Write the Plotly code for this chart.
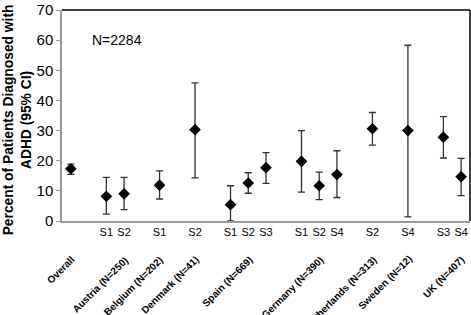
import plotly.graph_objects as go

# ---- data ----
groups = ["Overall", "Austria (N=250)", "Belgium (N=202)", "Denmark (N=41)", "Spain (N=669)",
          "Germany (N=390)", "Netherlands (N=313)", "Sweden (N=12)", "UK (N=407)"]
group_series = [[""], ["S1", "S2"], ["S1"], ["S2"], ["S1", "S2", "S3"],
                ["S1", "S2", "S4"], ["S2"], ["S4"], ["S3", "S4"]]
estimate = [17.3, 8.2, 9.0, 11.9, 30.3, 5.4, 12.6, 17.7, 19.8, 11.7, 15.4, 30.6, 30.0, 27.8, 14.7]
upper = [18.9, 14.5, 14.5, 16.6, 45.8, 11.7, 16.0, 22.7, 30.0, 16.2, 23.3, 36.0, 58.3, 34.6, 20.8]
lower = [15.5, 2.3, 3.8, 7.3, 14.3, 0.0, 9.2, 12.5, 9.6, 7.1, 7.8, 25.2, 1.4, 20.9, 8.4]
y_ticks = [0, 10, 20, 30, 40, 50, 60, 70]
note = "N=2284"
y_title = "Percent of Patients Diagnosed with<br>ADHD (95% CI)"

# ---- category slot layout (one blank slot between groups) ----
xpos, xlab, group_anchor = [], [], []
pos = 0
for g, ser in zip(groups, group_series):
    start = pos
    for s in ser:
        xpos.append(pos)
        xlab.append(s)
        pos += 1
    group_anchor.append(start + len(ser) // 2)
    pos += 1

err_plus = [u - e for u, e in zip(upper, estimate)]
err_minus = [e - l for e, l in zip(estimate, lower)]

FONT = "Liberation Sans, Arial, sans-serif"

fig = go.Figure()
fig.add_trace(go.Scatter(
    x=xpos, y=estimate, mode="markers",
    marker=dict(symbol="diamond", size=9, color="black"),
    error_y=dict(type="data", symmetric=False, array=err_plus, arrayminus=err_minus,
                 color="#333333", thickness=1.3, width=3.5),
    showlegend=False, cliponaxis=False,
))

annotations = []
for g, a in zip(groups, group_anchor):
    annotations.append(dict(
        x=a, y=-0.143, xref="x", yref="paper", text="<b>" + g + "</b>",
        textangle=-45, xanchor="right", yanchor="top", showarrow=False,
        font=dict(family=FONT, size=10, color="black"), xshift=9,
    ))
annotations.append(dict(
    x=1.1, y=60, xref="x", yref="y", text=note, xanchor="left", yanchor="middle",
    showarrow=False, font=dict(family=FONT, size=14, color="black"),
))
annotations.append(dict(
    x=0, xshift=-45, y=0.477, xref="paper", yref="paper", text="<b>" + y_title + "</b>",
    textangle=-90, showarrow=False, xanchor="center", yanchor="middle",
    font=dict(family=FONT, size=13.8, color="black"),
))

fig.update_layout(
    width=471, height=315,
    margin=dict(l=62, r=1, t=5, b=94),
    paper_bgcolor="white", plot_bgcolor="white",
    font=dict(family=FONT, color="black"),
    annotations=annotations,
    shapes=[
        dict(type="line", xref="paper", yref="paper", x0=0, x1=1, y0=1, y1=1,
             line=dict(color="black", width=1.5)),
        dict(type="line", xref="paper", yref="paper", x0=1, x1=1, y0=0, y1=1,
             line=dict(color="black", width=1.5)),
    ],
    xaxis=dict(range=[-0.5, 22.5], tickmode="array", tickvals=xpos, ticktext=xlab,
               showgrid=False, zeroline=False, showline=True, linecolor="#9a9a9a",
               linewidth=1.5, ticks="", tickangle=0,
               tickfont=dict(family=FONT, size=11, color="black")),
    yaxis=dict(range=[0, 70], tickmode="array", tickvals=y_ticks,
               showgrid=False, zeroline=False, showline=True, linecolor="#9a9a9a",
               linewidth=1.5, ticks="outside", ticklen=4, tickcolor="#9a9a9a",
               ticklabeloverflow="allow",
               tickfont=dict(family=FONT, size=15, color="black")),
)

fig.write_html("out.html", post_script="document.body.style.margin='0';",
               config={"displayModeBar": False})
